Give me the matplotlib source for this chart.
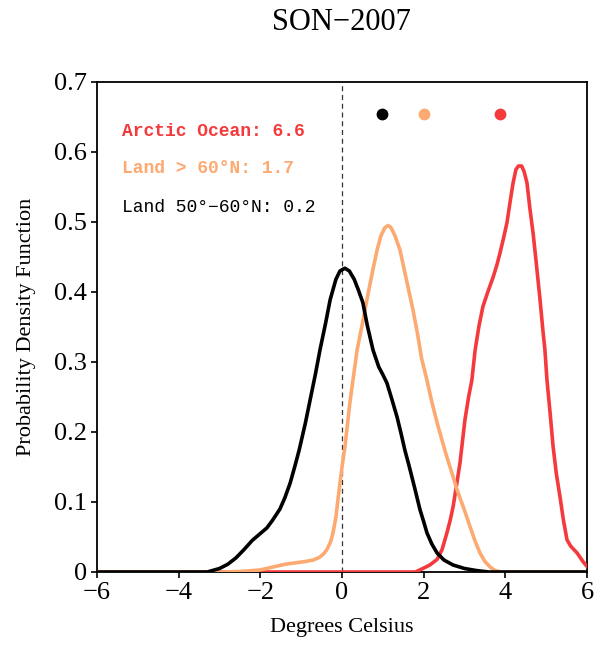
import matplotlib
matplotlib.use("Agg")
import matplotlib.pyplot as plt

# ---- data ----
title = "SON\u22122007"
xlabel = "Degrees Celsius"
ylabel = "Probability Density Function"

land50_x = [-6.0, -3.3, -3.0, -2.8, -2.6, -2.4, -2.2, -2.0, -1.84, -1.7, -1.52, -1.4, -1.27,
            -1.15, -1.05, -0.9, -0.78, -0.65, -0.54, -0.4, -0.29, -0.15, -0.05, 0.07, 0.18,
            0.3, 0.4, 0.51, 0.62, 0.76, 0.9, 1.0, 1.1, 1.22, 1.35, 1.45, 1.54, 1.65, 1.78,
            1.91, 2.0, 2.08, 2.2, 2.33, 2.5, 2.72, 3.0, 3.3, 3.6, 6.0]
land50_y = [0.0, 0.0, 0.005, 0.011, 0.02, 0.032, 0.045, 0.055, 0.063, 0.074, 0.09, 0.106,
            0.127, 0.152, 0.174, 0.212, 0.246, 0.283, 0.317, 0.356, 0.389, 0.418, 0.43, 0.434,
            0.43, 0.418, 0.403, 0.385, 0.352, 0.317, 0.293, 0.282, 0.27, 0.247, 0.221, 0.197,
            0.174, 0.15, 0.12, 0.089, 0.072, 0.056, 0.04, 0.027, 0.017, 0.01, 0.005, 0.002,
            0.0, 0.0]

land60_x = [-6.0, -2.9, -2.4, -2.0, -1.7, -1.4, -1.15, -0.9, -0.71, -0.55, -0.45, -0.37,
            -0.28, -0.22, -0.15, -0.1, -0.05, 0.0, 0.07, 0.2, 0.37, 0.5, 0.61, 0.75, 0.86,
            0.95, 1.05, 1.13, 1.2, 1.3, 1.42, 1.55, 1.65, 1.74, 1.85, 1.95, 2.08, 2.2, 2.33,
            2.45, 2.57, 2.7, 2.82, 3.0, 3.14, 3.26, 3.38, 3.5, 3.63, 3.75, 3.9, 6.0]
land60_y = [0.0, 0.0, 0.001, 0.003, 0.007, 0.011, 0.013, 0.015, 0.017, 0.021, 0.026, 0.032,
            0.043, 0.056, 0.078, 0.103, 0.127, 0.15, 0.178, 0.245, 0.317, 0.355, 0.389, 0.43,
            0.46, 0.48, 0.492, 0.495, 0.492, 0.48, 0.46, 0.425, 0.398, 0.374, 0.34, 0.305,
            0.274, 0.243, 0.213, 0.188, 0.164, 0.14, 0.117, 0.088, 0.064, 0.044, 0.027, 0.015,
            0.007, 0.002, 0.0, 0.0]

arctic_x = [-6.0, 1.8, 1.98, 2.15, 2.33, 2.45, 2.57, 2.65, 2.72, 2.8, 2.89, 3.01, 3.1, 3.18,
            3.26, 3.35, 3.45, 3.57, 3.70, 3.8, 3.87, 3.96, 4.04, 4.12, 4.19, 4.26, 4.32, 4.4,
            4.46, 4.53, 4.6, 4.68, 4.76, 4.85, 4.92, 4.97, 5.02, 5.1, 5.17, 5.25, 5.34, 5.42,
            5.51, 5.6, 5.76, 5.9, 6.0]
arctic_y = [0.0, 0.0, 0.005, 0.01, 0.018, 0.032, 0.056, 0.074, 0.093, 0.122, 0.156, 0.217,
            0.25, 0.274, 0.317, 0.35, 0.379, 0.4, 0.421, 0.44, 0.456, 0.478, 0.499, 0.53,
            0.556, 0.575, 0.58, 0.58, 0.572, 0.556, 0.52, 0.484, 0.44, 0.389, 0.345, 0.317,
            0.274, 0.225, 0.179, 0.14, 0.107, 0.075, 0.046, 0.037, 0.027, 0.015, 0.008]

mean_x = [0.98, 2.01, 3.87]
mean_y = [0.655, 0.655, 0.655]

labels = ["Arctic Ocean: 6.6", "Land > 60\u00b0N: 1.7", "Land 50\u00b0\u221260\u00b0N: 0.2"]
label_y = [0.63, 0.576, 0.521]

xticks = [-6, -4, -2, 0, 2, 4, 6]
xticklabels = ["\u22126", "\u22124", "\u22122", "0", "2", "4", "6"]
yticks = [0, 0.1, 0.2, 0.3, 0.4, 0.5, 0.6, 0.7]
yticklabels = ["0", "0.1", "0.2", "0.3", "0.4", "0.5", "0.6", "0.7"]

# ---- style ----
c_red = "#f43a3c"
c_orange = "#fcaa72"
c_black = "#000000"
serif = ["Liberation Serif", "DejaVu Serif"]
mono = ["Liberation Mono", "DejaVu Sans Mono"]

fig = plt.figure(figsize=(6.03, 6.53), dpi=100)
ax = fig.add_axes([97 / 603, 81 / 653, 490 / 603, 490 / 653])

ax.axvline(0, color="#333333", lw=0.9, ls=(0, (4, 3)), zorder=1)
ax.plot(arctic_x, arctic_y, color=c_red, lw=2.6, solid_joinstyle="round", zorder=3)
ax.plot(land60_x, land60_y, color=c_orange, lw=2.6, solid_joinstyle="round", zorder=3)
ax.plot(land50_x, land50_y, color=c_black, lw=2.6, solid_joinstyle="round", zorder=4)

for mx, my, c in zip(mean_x, mean_y, [c_black, c_orange, c_red]):
    ax.plot([mx], [my], "o", color=c, ms=8.5, mec="none", zorder=5)

for lab, ly, c, w in zip(labels, label_y, [c_red, c_orange, c_black], ["bold", "bold", "normal"]):
    ax.text(-5.39, ly, lab, color=c, fontsize=13, family=mono, fontweight=w,
            va="center", ha="left")

ax.set_xlim(-6, 6)
ax.set_ylim(0, 0.7)
ax.set_xticks(xticks)
ax.set_xticklabels(xticklabels, family=serif, fontsize=19)
ax.set_yticks(yticks)
ax.set_yticklabels(yticklabels, family=serif, fontsize=19)
ax.tick_params(direction="out", length=4, width=1.2, pad=3)
for s in ax.spines.values():
    s.set_linewidth(1.3)

ax.set_xlabel(xlabel, family=serif, fontsize=16, labelpad=10)
ax.set_ylabel(ylabel, family=serif, fontsize=16, labelpad=13)
fig.text(341 / 603, 1 - 22 / 653, title, family=serif, fontsize=22, ha="center", va="center")

fig.savefig("out.png", dpi=100)
